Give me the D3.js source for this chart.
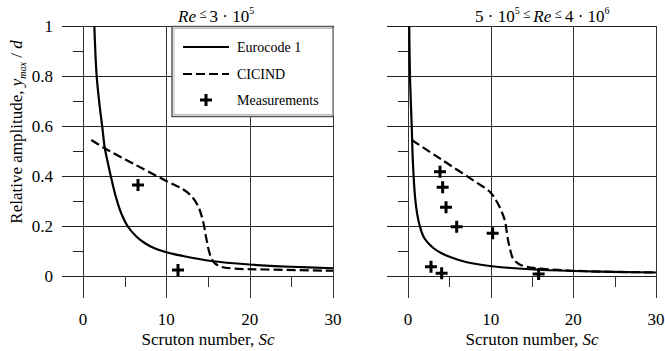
<!DOCTYPE html>
<html lang="en">
<head>
<meta charset="UTF-8">
<title>Relative amplitude vs Scruton number</title>
<script src="https://d3js.org/d3.v7.min.js"></script>
<style>
  body { margin: 0; background: #fff; }
</style>
</head>
<body>
<svg id="chart" width="665" height="351" font-family="'Liberation Serif', 'Times New Roman', Times, 'DejaVu Serif', serif"></svg>
<script>
// ---- data ----
var xTicks = [0, 10, 20, 30];
var xMinor = [5, 15, 25];
var yTicks = [0, 0.2, 0.4, 0.6, 0.8, 1];
var yTickLabels = ["0", "0.2", "0.4", "0.6", "0.8", "1"];
var yMinor = [0.1, 0.3, 0.5, 0.7, 0.9];

// left panel, Re <= 3e5
var euroLeft = [[1.36,1.0],[1.64,0.8],[2.0,0.68],[2.3,0.6],[2.6,0.515],[3.0,0.45],[3.4,0.39],[4.0,0.31],
  [4.6,0.25],[5.4,0.197],[6.4,0.158],[7.4,0.132],[8.5,0.112],[10,0.095],[12,0.08],[15.4,0.06],[20,0.046],[25,0.037],[30,0.031]];
var cicLeft = [[1.0,0.544],[2.6,0.511],[6,0.45],[10,0.38],[12,0.347],[13,0.32],[13.8,0.28],[14.4,0.22],[14.8,0.15],
  [15.2,0.09],[15.7,0.055],[16.5,0.038],[18,0.03],[22,0.026],[30,0.021]];
var measLeft = [[6.6,0.364],[11.4,0.024]];

// right panel, 5e5 <= Re <= 4e6
var euroRight = [[0.15,1.0],[0.24,0.8],[0.45,0.6],[0.6,0.45],[0.85,0.317],[1.1,0.25],[1.45,0.197],[2.0,0.15],
  [3.06,0.112],[4,0.092],[5.1,0.076],[7,0.056],[9.9,0.04],[14.75,0.027],[20,0.02],[30,0.014]];
var cicRight = [[0.45,0.544],[4,0.467],[8,0.38],[9.9,0.337],[10.7,0.3],[11.3,0.26],[11.7,0.224],[12.1,0.144],
  [12.4,0.1],[12.7,0.07],[13.4,0.048],[14.35,0.037],[16,0.03],[20,0.021],[30,0.014]];
var measRight = [[3.87,0.417],[4.19,0.355],[4.6,0.275],[5.89,0.197],[10.24,0.171],[2.78,0.037],[4.07,0.011],[15.8,0.008]];

var legendNames = ["Eurocode 1", "CICIND", "Measurements"];

var svg = d3.select("#chart");
var y = d3.scaleLinear().domain([0, 1]).range([276, 26]);

function panel(x, euro, cic, meas, showYLabels) {
  var g = svg.append("g");
  var x0 = x(0);

  // horizontal grid lines (stick out left of the axis)
  g.selectAll(".hg").data(yTicks).enter().append("line")
    .attr("x1", x0 - 21).attr("x2", x(30))
    .attr("y1", d => Math.round(y(d)) + 0.5).attr("y2", d => Math.round(y(d)) + 0.5)
    .attr("stroke", "#222").attr("stroke-width", 1);
  g.selectAll(".ym").data(yMinor).enter().append("line")
    .attr("x1", x0 - 10).attr("x2", x0)
    .attr("y1", d => Math.round(y(d)) + 0.5).attr("y2", d => Math.round(y(d)) + 0.5)
    .attr("stroke", "#222");
  // vertical grid lines (stick out below)
  g.selectAll(".vg").data(xTicks).enter().append("line")
    .attr("x1", d => Math.round(x(d)) + 0.5).attr("x2", d => Math.round(x(d)) + 0.5)
    .attr("y1", y(1)).attr("y2", y(0) + 22)
    .attr("stroke", "#333");
  g.selectAll(".xm").data(xMinor).enter().append("line")
    .attr("x1", d => Math.round(x(d)) + 0.5).attr("x2", d => Math.round(x(d)) + 0.5)
    .attr("y1", y(0)).attr("y2", y(0) + 11)
    .attr("stroke", "#333");

  g.selectAll(".xl").data(xTicks).enter().append("text")
    .attr("x", d => x(d)).attr("y", 325)
    .attr("text-anchor", "middle").attr("font-size", 17)
    .text(d => d);

  if (showYLabels) {
    g.selectAll(".yl").data(yTicks).enter().append("text")
      .attr("x", 53).attr("y", d => y(d)).attr("dy", "0.35em")
      .attr("text-anchor", "end").attr("font-size", 17)
      .text((d, i) => yTickLabels[i]);
  }

  var line = d3.line().x(d => x(d[0])).y(d => y(d[1])).curve(d3.curveCatmullRom.alpha(0.5));
  g.append("path").attr("d", line(euro)).attr("fill", "none")
    .attr("stroke", "#000").attr("stroke-width", 2.2);
  g.append("path").attr("d", line(cic)).attr("fill", "none")
    .attr("stroke", "#000").attr("stroke-width", 2.2).attr("stroke-dasharray", "9,4");

  meas.forEach(function (d) { plus(g, x(d[0]), y(d[1])); });

  svg.append("text").attr("x", (x(0) + x(30)) / 2).attr("y", 345)
    .attr("text-anchor", "middle").attr("font-size", 17)
    .html('Scruton number, <tspan font-style="italic">Sc</tspan>');
  return g;
}

function plus(g, cx, cy) {
  g.append("path")
    .attr("d", "M" + (cx - 6) + "," + cy + "H" + (cx + 6) + "M" + cx + "," + (cy - 6) + "V" + (cy + 6))
    .attr("stroke", "#000").attr("stroke-width", 3).attr("fill", "none");
}

var xl = d3.scaleLinear().domain([0, 30]).range([83, 333]);
var xr = d3.scaleLinear().domain([0, 30]).range([408, 656]);
panel(xl, euroLeft, cicLeft, measLeft, true);
panel(xr, euroRight, cicRight, measRight, false);

// legend box in left panel
var lg = svg.append("g");
lg.append("rect").attr("x", 172).attr("y", 26.5).attr("width", 161).attr("height", 90)
  .attr("fill", "#fff").attr("stroke", "#555").attr("stroke-width", 1.5);
lg.append("rect").attr("x", 174).attr("y", 28.5).attr("width", 159).attr("height", 86)
  .attr("fill", "none").attr("stroke", "#bbb").attr("stroke-width", 1);
lg.append("line").attr("x1", 183).attr("x2", 229).attr("y1", 47).attr("y2", 47)
  .attr("stroke", "#000").attr("stroke-width", 2.2);
lg.append("line").attr("x1", 183).attr("x2", 229).attr("y1", 74).attr("y2", 74)
  .attr("stroke", "#000").attr("stroke-width", 2.2).attr("stroke-dasharray", "9,4");
plus(lg, 206, 100);
lg.selectAll(".lt").data(legendNames).enter().append("text")
  .attr("x", 237).attr("y", (d, i) => [47, 74, 100][i]).attr("dy", "0.35em")
  .attr("font-size", 14).text(d => d);

// panel titles
svg.append("text").attr("x", 178).attr("y", 22).attr("font-size", 17)
  .html('<tspan font-style="italic">Re</tspan><tspan font-size="13" dy="-4"> ≤ </tspan><tspan dy="4">3 · 10</tspan><tspan font-size="10" dy="-8">5</tspan>');
svg.append("text").attr("x", 475).attr("y", 22).attr("font-size", 17)
  .html('5 · 10<tspan font-size="10" dy="-8">5</tspan><tspan font-size="13" dy="4"> ≤ </tspan><tspan font-style="italic" dy="4">Re</tspan><tspan font-size="13" dy="-4"> ≤ </tspan><tspan dy="4">4 · 10</tspan><tspan font-size="10" dy="-8">6</tspan>');

// y axis title
svg.append("text").attr("transform", "translate(22,132) rotate(-90)")
  .attr("text-anchor", "middle").attr("font-size", 17)
  .html('Relative amplitude, <tspan font-style="italic">y</tspan><tspan font-style="italic" font-size="10" dy="4">max</tspan><tspan dy="-4"> / </tspan><tspan font-style="italic">d</tspan>');
</script>
</body>
</html>
